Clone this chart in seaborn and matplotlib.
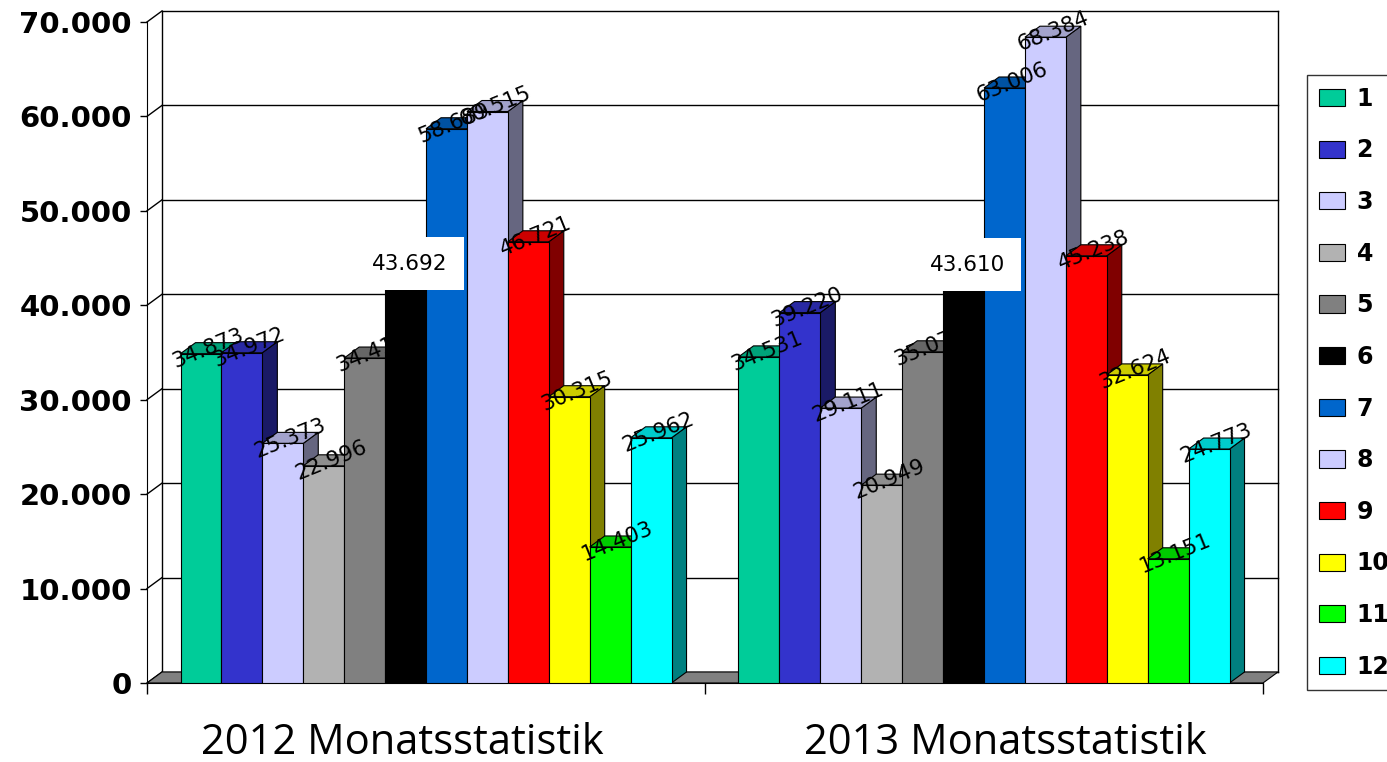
import numpy as np
import pandas as pd
import matplotlib
matplotlib.use("Agg")
import matplotlib.pyplot as plt
import matplotlib.colors as mcolors
import matplotlib.transforms as mtransforms
from matplotlib.patches import Patch, Polygon
import seaborn as sns

# ---- data ----
years = ["2012 Monatsstatistik", "2013 Monatsstatistik"]
months = [str(i) for i in range(1, 13)]
values_2012 = [34873, 34972, 25373, 22996, 34410, 43692, 58689, 60515, 46721, 30315, 14403, 25962]
values_2013 = [34531, 39220, 29111, 20949, 35070, 43610, 63006, 68384, 45238, 32624, 13151, 24773]
colors = ["#00CC99", "#3333CC", "#CCCCFF", "#B2B2B2", "#808080", "#000000",
          "#0066CC", "#CCCCFF", "#FF0000", "#FFFF00", "#00FF00", "#00FFFF"]
yticks = [0, 10000, 20000, 30000, 40000, 50000, 60000, 70000]

df = pd.DataFrame({
    "year": [years[0]] * 12 + [years[1]] * 12,
    "month": months + months,
    "value": values_2012 + values_2013,
})

def fmt(v):
    return f"{int(v):,}".replace(",", ".")

fig = plt.figure(figsize=(13.87, 7.62), dpi=100)
ax = fig.add_axes([0.106, 0.1037, 0.8046, 0.8675])

sns.barplot(data=df, x="year", y="value", hue="month", order=years, hue_order=months,
            palette=colors, width=0.88, dodge=True, errorbar=None, legend=False,
            edgecolor="black", linewidth=0.8, saturation=1, ax=ax)

bars = sorted([p for p in ax.patches if hasattr(p, "get_x")], key=lambda p: p.get_x())

ax.set_xlim(-0.5, 1.5)
ax.set_ylim(0, 70000)
ax.set_xlabel("")
ax.set_ylabel("")

# depth offset in data units (3D look)
inv = ax.transData.inverted()
p0 = inv.transform((0, 0))
p1 = inv.transform((15, 11))
ddx, ddy = p1[0] - p0[0], p1[1] - p0[1]
x0l, x1l = ax.get_xlim()

# back wall, floor, gridlines
for yv in yticks:
    ax.plot([x0l + ddx, x1l + ddx], [yv + ddy, yv + ddy], color="black", lw=1.0,
            zorder=1, clip_on=False)
    ax.plot([x0l, x0l + ddx], [yv, yv + ddy], color="black", lw=1.0, zorder=1, clip_on=False)
ax.plot([x0l + ddx, x0l + ddx], [ddy, 70000 + ddy], color="black", lw=1.0, zorder=1, clip_on=False)
ax.plot([x1l + ddx, x1l + ddx], [ddy, 70000 + ddy], color="black", lw=1.0, zorder=1, clip_on=False)
floor = Polygon([[x0l, 0], [x1l, 0], [x1l + ddx, ddy], [x0l + ddx, ddy]], closed=True,
                facecolor="#808080", edgecolor="black", lw=0.8, zorder=1.5, clip_on=False)
ax.add_patch(floor)

# 3D faces and labels
for idx, b in enumerate(bars):
    k = idx % 12
    base = 3 + idx * 0.1
    xa, w, h = b.get_x(), b.get_width(), b.get_height()
    xb = xa + w
    c = np.array(mcolors.to_rgb(colors[k]))
    side = Polygon([[xb, 0], [xb + ddx, ddy], [xb + ddx, h + ddy], [xb, h]], closed=True,
                   facecolor=c * 0.5, edgecolor="black", lw=0.8, zorder=base)
    top = Polygon([[xa, h], [xb, h], [xb + ddx, h + ddy], [xa + ddx, h + ddy]], closed=True,
                  facecolor=c * 0.8, edgecolor="black", lw=0.8, zorder=base)
    ax.add_patch(side)
    ax.add_patch(top)
    b.set_zorder(base + 0.05)
    if k == 5:
        ax.text(xa + w / 2 + ddx / 4, h + 700, fmt(h), ha="center", va="center", fontsize=15.5,
                zorder=50, bbox=dict(facecolor="white", edgecolor="none", pad=12))
    else:
        zl = base + 0.08 if k == 4 else 40
        ax.text(xa + w / 2 + ddx / 2, h + ddy / 2, fmt(h), ha="center", va="center",
                fontsize=15.5, rotation=22, zorder=zl)

# axes styling
ax.set_facecolor("none")
for s in ["top", "right"]:
    ax.spines[s].set_visible(False)
ax.spines["left"].set_color("black")
ax.spines["bottom"].set_color("black")
ax.spines["left"].set_zorder(60)
ax.set_yticks(yticks)
ax.set_yticklabels([fmt(v) for v in yticks], fontsize=21, fontweight="bold")
ax.tick_params(axis="y", length=5, width=1, pad=6, colors="black")
ax.set_xticks([0, 1])
ax.set_xticklabels(years, fontsize=30, family="Open Sans")
ax.tick_params(axis="x", length=0, pad=28)
for lab, shift in zip(ax.get_xticklabels(), [-24, 21]):
    lab.set_transform(lab.get_transform() + mtransforms.Affine2D().translate(shift, 0))
ax.set_xticks([-0.5, 0.5, 1.5], minor=True)
ax.tick_params(axis="x", which="minor", length=8, width=1)
ax.grid(False)

# legend
handles = [Patch(facecolor=c, edgecolor="black", lw=0.8) for c in colors]
leg = fig.legend(handles, months, loc="upper left", bbox_to_anchor=(0.9423, 0.9016),
                 borderaxespad=0, frameon=True, fancybox=False, edgecolor="black",
                 prop=dict(size=17, weight="bold"), handlelength=1.1, handleheight=0.75,
                 handletextpad=0.5, labelspacing=1.17, borderpad=0.5)
leg.get_frame().set_linewidth(1.0)

fig.savefig("out.png", dpi=100, facecolor="white")
